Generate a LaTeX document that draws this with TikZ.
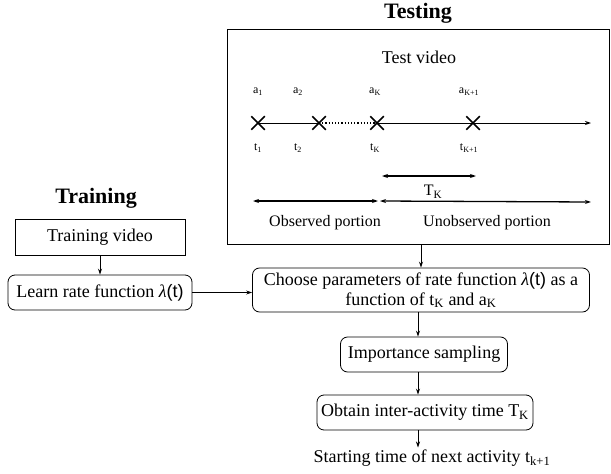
\documentclass[tikz,border=0pt]{standalone}
\usepackage{fontspec}
\setmainfont{Liberation Serif}
\setsansfont{Liberation Sans}
\usetikzlibrary{arrows.meta,shapes.misc}

\newcommand{\ratefn}{\textit{λ}\textsf{(t)}}

\begin{document}
\begin{tikzpicture}[x=1pt, y=-1pt,
  box/.style={draw, line width=0.8pt, minimum height=35pt, inner sep=3pt,
    font=\fontsize{18}{20}\selectfont, align=center},
  rbox/.style={box, rounded corners=7pt},
  txt/.style={font=\fontsize{16}{18}\selectfont},
  bigtxt/.style={font=\fontsize{18}{20}\selectfont},
  lbl/.style={font=\fontsize{12}{13}\selectfont},
  head/.style={font=\fontsize{22}{24}\selectfont\bfseries},
  cross/.style={cross out, draw, line width=1.5pt, minimum size=12pt, inner sep=0pt},
  flow/.style={-{Stealth[length=6pt,width=4pt]}, line width=1pt},
  span/.style={{Stealth[length=6pt,width=4pt]}-{Stealth[length=6pt,width=4pt]}, line width=1.3pt}]
\useasboundingbox (0,0) rectangle (611,474);

% testing part
\node[head, anchor=base, inner sep=0pt] (testing) at (418,18) {Testing};
\node[draw, line width=0.8pt, minimum width=382pt, minimum height=215pt] (test) at (418,136.5) {};
\node[bigtxt] (testvid) at (419,57) {Test video};

\node[lbl] (a1) at (258,92) {a\textsubscript{1}};
\node[lbl] (a2) at (298,92) {a\textsubscript{2}};
\node[lbl] (aK) at (375,92) {a\textsubscript{K}};
\node[lbl] (aK1) at (469,92) {a\textsubscript{K+1}};

\node[cross] (x1) at (258,123) {};
\node[cross] (x2) at (319,123) {};
\node[cross] (xK) at (377,123) {};
\node[cross] (xK1) at (473,123) {};
\coordinate (tend) at (591,123);
\draw[line width=1pt] (x1.center) -- (x2.center);
\draw[line width=1.2pt, dotted] (x2.center) -- (xK.center);
\draw[line width=1pt] (xK.center) -- (xK1.center);
\draw[flow] (xK1.center) -- (tend);

\node[lbl] (t1) at (258,148) {t\textsubscript{1}};
\node[lbl] (t2) at (298,148) {t\textsubscript{2}};
\node[lbl] (tK) at (375,148) {t\textsubscript{K}};
\node[lbl] (tK1) at (469,148) {t\textsubscript{K+1}};

\coordinate (gapL) at (382,176);
\coordinate (gapR) at (476,176);
\draw[span, line width=1.6pt] (gapL) -- (gapR);
\node[txt] (TK) at (433,192) {T\textsubscript{K}};

\coordinate (obsL) at (253,201);
\coordinate (obsR) at (378,201);
\coordinate (unobsL) at (380,201);
\coordinate (unobsR) at (591,202);
\draw[span] (obsL) -- (obsR);
\draw[span] (unobsL) -- (unobsR);
\node[txt] (obs) at (325,223) {Observed portion};
\node[txt] (unobs) at (487,223) {Unobserved portion};

% training part
\node[head] (training) at (96,198) {Training};
\node[box, rounded corners=0pt, minimum width=170pt, minimum height=36pt] (trainvid) at (100,237) {Training video};
\node[rbox, minimum width=184pt] (learn) at (100,292.5) {Learn rate function \ratefn};

% flow
\node[rbox, minimum width=337pt, minimum height=44pt, inner sep=2pt] (choose) at (421,290)
  {Choose parameters of rate function \ratefn{} as a\\function of t\textsubscript{K} and a\textsubscript{K}};
\node[rbox, minimum width=167pt] (impsamp) at (424,354.5) {Importance sampling};
\node[rbox, minimum width=216pt] (obtain) at (425,412.5) {Obtain inter-activity time T\textsubscript{K}};
\node[bigtxt, inner sep=2pt] (start) at (432,458) {Starting time of next activity t\textsubscript{k+1}};

\draw[flow] (trainvid) -- (learn);
\draw[flow] (learn.east) -- (learn.east -| choose.west);
\draw[flow] (test.south -| choose) -- (choose);
\draw[flow] (choose.south -| test) -- (impsamp.north -| test);
\draw[flow] (impsamp.south -| test) -- (obtain.north -| test);
\draw[flow] (obtain.south -| test) -- (start.north -| test);
\end{tikzpicture}
\end{document}
